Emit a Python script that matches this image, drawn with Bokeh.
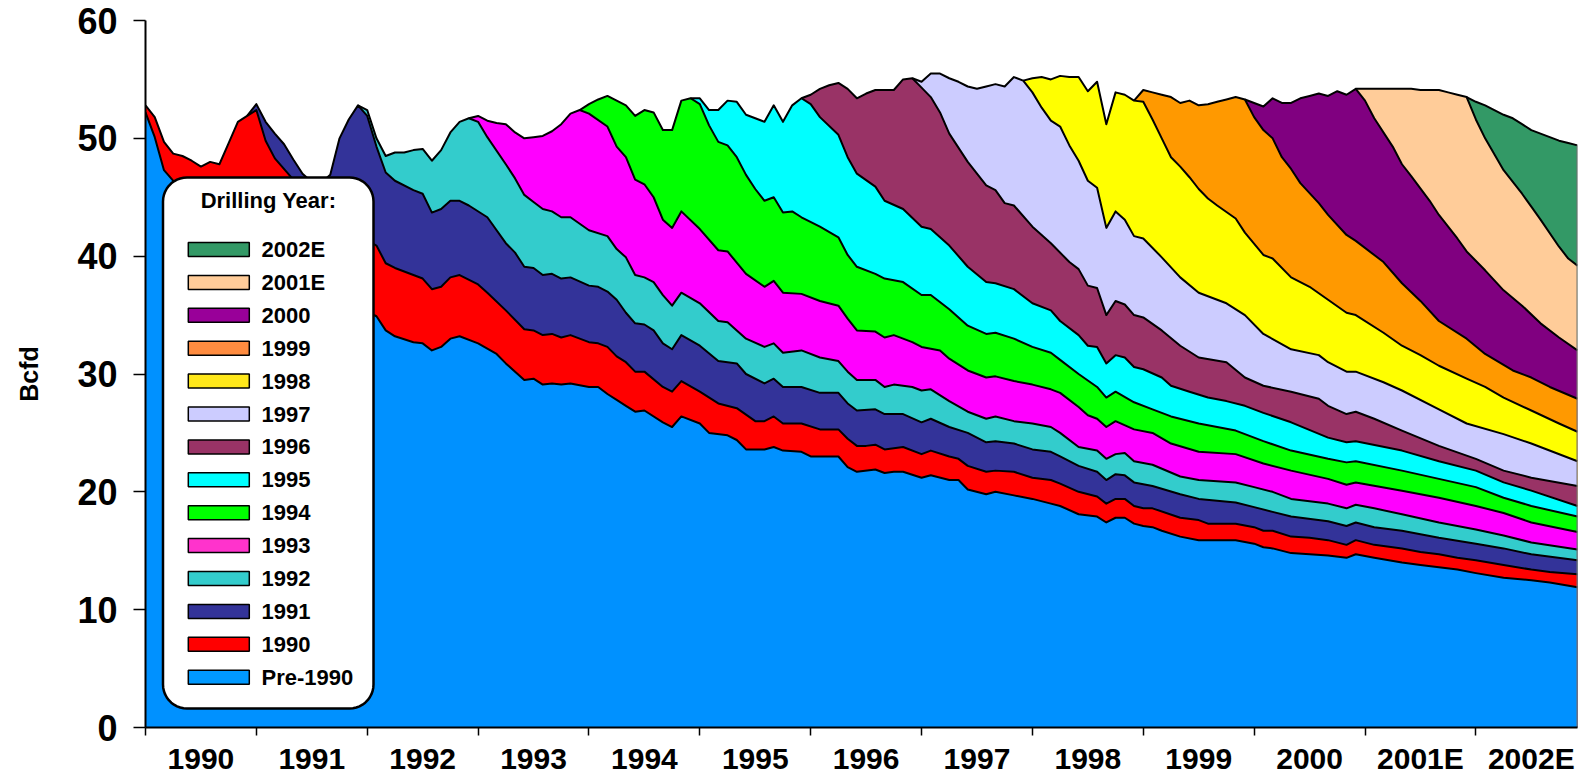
import numpy as np
from bokeh.plotting import figure
from bokeh.models import FixedTicker, Range1d
from bokeh.embed import file_html
from bokeh.resources import INLINE
from bokeh.core.properties import value

# ---------------- data ----------------
# month index: 0 = Jan 1990 ... 155 = Dec 2002
year_labels = ["1990", "1991", "1992", "1993", "1994", "1995", "1996",
               "1997", "1998", "1999", "2000", "2001E", "2002E"]

# stacked level (Bcfd) at the top of each drilling-year band: (month, level)
pre1990 = [(0,52.2),(1,50.1),(2,47.3),(4,45.5),(8,42.5),(12,40.5),(16,38.5),(20,36.8),(25,34.9),(26,33.7),(27,33.2),
           (29,32.7),(30,32.6),(31,32.0),(32,32.3),(33,33.0),(34,33.2),(36,32.6),(38,31.7),(39,30.9),(41,29.5),(42,29.6),
           (43,29.1),(44,29.2),(45,29.1),(46,29.2),(48,28.9),(49,28.9),(50,28.3),(51,27.8),(52,27.3),(53,26.8),(54,26.9),
           (56,25.9),(57,25.5),(58,26.4),(60,25.8),(61,25.0),(63,24.8),(64,24.4),(65,23.6),(67,23.6),(68,23.8),(69,23.5),
           (71,23.4),(72,23.0),(75,23.0),(76,22.1),(77,21.7),(79,21.9),(80,21.6),(81,21.7),(82,21.7),(84,21.2),(85,21.4),
           (87,21.0),(88,21.0),(89,20.2),(91,19.8),(92,20.0),(94,19.7),(96,19.4),(98,19.0),(99,18.8),(101,18.1),(103,17.9),
           (104,17.4),(105,17.8),(106,17.8),(107,17.3),(108,17.1),(109,17.0),(110,16.7),(112,16.2),(114,15.9),(115,15.9),
           (118,15.9),(120,15.6),(121,15.3),(122,15.2),(124,14.8),(126,14.7),(128,14.6),(130,14.4),(131,14.7),(133,14.4),
           (136,14.0),(138,13.8),(140,13.6),(142,13.4),(144,13.1),(147,12.7),(150,12.5),(152,12.3),(155,11.9)]
y1990 = [(0,52.8),(1,51.8),(2,49.7),(3,48.7),(4,48.5),(5,48.1),(6,47.6),(7,48.0),(8,47.8),(9,49.6),(10,51.4),(11,51.9),
         (12,52.4),(13,49.8),(14,48.3),(16,46.5),(18,45.0),(20,43.5),(22,42.2),(25,40.9),(26,39.4),(27,39.0),(29,38.4),
         (30,38.1),(31,37.2),(32,37.4),(33,38.2),(34,38.4),(36,37.6),(37,36.9),(39,35.4),(41,33.8),(42,33.7),(43,33.3),
         (44,33.4),(45,33.1),(46,33.3),(48,32.7),(49,32.6),(50,32.3),(51,31.5),(52,31.0),(53,30.2),(54,30.2),(56,28.9),
         (57,28.5),(58,29.4),(60,28.5),(62,27.5),(64,27.1),(66,26.0),(67,26.0),(68,26.4),(69,25.8),(71,25.8),(73,25.3),
         (75,25.3),(76,24.5),(77,23.9),(78,23.9),(79,24.0),(80,23.6),(82,23.8),(84,23.2),(85,23.5),(87,23.0),(88,22.8),
         (89,22.2),(91,21.7),(92,21.8),(94,21.7),(96,21.2),(98,21.0),(99,20.7),(101,20.0),(103,19.6),(104,19.0),
         (105,19.4),(106,19.4),(107,18.8),(108,18.6),(109,18.6),(112,17.8),(114,17.6),(115,17.3),(118,17.3),(120,17.0),
         (121,16.7),(122,16.7),(124,16.2),(126,16.1),(128,15.9),(130,15.5),(131,15.9),(133,15.5),(136,15.2),(138,14.9),
         (140,14.7),(142,14.4),(144,14.2),(147,13.8),(150,13.4),(152,13.2),(155,13.0)]
y1991 = [(11,51.9),(12,52.9),(13,51.4),(14,50.4),(15,49.5),(16,48.2),(17,47.0),(18,46.3),(19,46.2),(20,46.9),(21,50.0),
         (22,51.6),(23,52.8),(24,51.9),(25,49.3),(26,47.1),(27,46.4),(29,45.6),(30,45.3),(31,43.7),(32,44.0),(33,44.7),
         (34,44.7),(35,44.3),(37,43.3),(39,41.1),(40,40.3),(41,39.1),(42,39.0),(43,38.4),(44,38.5),(45,38.1),(46,38.2),
         (48,37.5),(49,37.4),(50,37.0),(51,36.3),(52,35.2),(53,34.3),(54,34.2),(55,33.7),(56,32.6),(57,32.1),(58,33.3),
         (60,32.4),(62,31.1),(64,30.9),(65,30.0),(67,29.2),(68,29.6),(69,28.9),(71,28.9),(73,28.4),(75,28.4),(76,27.5),
         (77,26.9),(79,27.0),(80,26.6),(82,26.6),(84,25.9),(85,26.2),(87,25.5),(89,25.0),(91,24.2),(92,24.3),(94,24.1),
         (96,23.6),(98,23.4),(99,23.0),(101,22.2),(103,21.7),(104,21.0),(105,21.5),(106,21.4),(107,20.8),(109,20.5),
         (112,19.8),(114,19.4),(118,19.1),(120,18.7),(122,18.3),(124,17.9),(128,17.5),(130,17.1),(131,17.4),(133,17.0),
         (136,16.7),(140,16.1),(144,15.6),(147,15.2),(150,14.7),(155,14.2)]
y1992 = [(23,52.8),(24,52.4),(25,50.0),(26,48.5),(27,48.8),(28,48.8),(29,49.0),(30,49.1),(31,48.1),(32,49.0),(33,50.5),
         (34,51.4),(35,51.7),(36,51.4),(37,50.1),(39,47.8),(40,46.6),(41,45.2),(42,44.6),(43,44.0),(44,43.8),(45,43.3),
         (46,43.3),(48,42.2),(50,41.7),(51,40.6),(52,39.9),(53,38.4),(54,38.2),(55,37.8),(56,36.7),(57,35.8),(58,36.9),
         (60,36.0),(62,34.5),(63,34.4),(65,33.0),(67,32.3),(68,32.6),(69,31.8),(71,32.0),(73,31.4),(75,31.1),(76,30.2),
         (77,29.5),(79,29.5),(80,28.9),(81,29.1),(83,28.9),(84,28.6),(85,28.7),(87,27.7),(89,26.8),(91,26.2),(92,26.4),
         (94,26.0),(96,25.8),(98,25.5),(99,25.0),(101,23.8),(103,23.5),(104,22.8),(105,23.2),(106,23.3),(107,22.6),
         (109,22.3),(112,21.3),(114,21.0),(118,20.8),(120,20.4),(122,20.0),(124,19.4),(128,19.0),(130,18.6),(131,18.9),
         (133,18.6),(136,18.1),(140,17.4),(144,16.8),(147,16.3),(150,15.7),(155,15.1)]
y1993 = [(35,51.7),(36,51.9),(37,51.5),(38,51.3),(39,51.2),(40,50.5),(41,50.0),(42,50.1),(43,50.2),(44,50.6),(45,51.2),
         (46,52.1),(47,52.4),(48,52.1),(50,51.0),(51,49.3),(52,48.4),(53,46.5),(54,46.1),(55,45.0),(56,43.1),(57,42.4),
         (58,43.8),(60,42.3),(62,40.5),(63,40.4),(65,38.5),(67,37.4),(68,37.9),(69,36.9),(71,36.8),(73,36.2),(75,35.8),
         (76,34.7),(77,33.7),(79,33.6),(80,33.1),(81,33.3),(83,32.7),(84,32.3),(86,32.0),(87,31.3),(89,30.3),(91,29.7),
         (92,29.8),(94,29.4),(96,29.1),(98,28.7),(99,28.4),(101,27.2),(102,26.5),(103,26.2),(104,25.5),(105,26.0),
         (107,25.3),(109,25.0),(111,24.1),(114,23.4),(118,23.2),(121,22.4),(124,21.8),(128,21.1),(130,20.6),(131,20.8),
         (136,20.1),(140,19.5),(144,18.8),(147,18.2),(150,17.4),(155,16.6)]
y1994 = [(47,52.4),(48,52.9),(49,53.3),(50,53.6),(51,53.2),(52,52.8),(53,51.9),(54,52.4),(55,52.2),(56,50.7),(57,50.7),
         (58,53.2),(59,53.4),(60,52.9),(61,51.1),(62,49.7),(63,49.4),(64,48.4),(65,46.9),(66,45.7),(67,44.7),(68,45.0),
         (69,43.7),(70,43.8),(71,43.3),(73,42.5),(75,41.6),(76,40.1),(77,39.1),(79,38.5),(80,38.1),(82,37.8),(84,36.7),
         (85,36.7),(87,35.5),(89,34.1),(91,33.4),(92,33.5),(94,33.0),(96,32.3),(98,31.8),(99,31.2),(101,30.0),(103,28.9),
         (104,28.0),(105,28.5),(107,27.6),(109,27.0),(111,26.4),(114,25.8),(118,25.2),(121,24.3),(124,23.5),(128,22.8),
         (130,22.5),(131,22.6),(136,21.8),(140,21.1),(144,20.4),(147,19.5),(150,18.8),(155,17.9)]
y1995 = [(59,53.4),(60,53.4),(61,52.4),(62,52.4),(63,53.2),(64,53.1),(65,52.0),(66,51.7),(67,51.4),(68,52.8),(69,51.4),
         (70,52.8),(71,53.4),(72,52.9),(73,51.8),(75,50.3),(76,48.4),(77,47.0),(79,45.9),(80,44.7),(82,44.0),(84,42.5),
         (85,42.3),(87,40.9),(89,39.1),(91,37.8),(92,37.7),(94,37.2),(96,36.0),(98,35.4),(99,34.5),(101,33.3),(102,32.4),
         (103,32.3),(104,30.9),(105,31.6),(106,31.4),(107,30.6),(108,30.4),(110,29.7),(111,29.0),(113,28.5),(115,28.0),
         (117,27.7),(119,27.3),(121,26.7),(124,25.9),(128,24.6),(130,24.2),(131,24.3),(136,23.5),(140,22.6),(144,21.8),
         (147,20.8),(150,20.1),(155,18.8)]
y1996 = [(71,53.4),(72,53.7),(73,54.2),(74,54.5),(75,54.7),(76,54.2),(77,53.4),(78,53.8),(79,54.1),(80,54.1),(81,54.1),
         (82,55.0),(83,55.1),(84,54.3),(85,53.5),(86,52.2),(87,50.4),(89,48.0),(91,46.0),(92,45.6),(93,44.5),(94,44.3),
         (96,42.5),(98,41.1),(100,39.5),(101,38.9),(102,37.5),(103,37.3),(104,35.0),(105,36.2),(106,35.9),(107,35.0),
         (108,34.8),(110,33.7),(112,32.4),(114,31.4),(117,31.0),(119,29.7),(121,29.0),(124,28.5),(127,27.9),(128,27.3),
         (130,26.6),(131,26.8),(133,26.2),(136,25.2),(140,23.9),(144,22.8),(147,21.8),(150,21.2),(155,20.5)]
y1997 = [(83,55.1),(84,54.8),(85,55.5),(86,55.5),(87,55.1),(88,54.8),(89,54.4),(90,54.2),(91,54.4),(92,54.6),(93,54.4),
         (94,55.2),(95,54.9),(96,53.9),(97,52.6),(98,51.5),(99,51.0),(100,49.4),(101,48.1),(102,46.4),(103,45.8),
         (104,42.4),(105,43.8),(106,43.1),(107,41.7),(108,41.5),(110,39.9),(112,38.2),(114,36.9),(117,36.0),(119,35.0),
         (121,33.4),(124,32.1),(127,31.6),(128,31.0),(130,30.2),(131,30.2),(134,29.3),(136,28.6),(140,27.0),(143,25.8),
         (147,24.9),(150,24.1),(155,22.6)]
y1998 = [(95,54.9),(96,55.1),(97,55.2),(98,55.0),(99,55.3),(100,55.2),(101,55.2),(102,54.0),(103,54.8),(104,51.2),
         (105,53.9),(106,53.7),(107,53.2),(108,53.1),(109,51.6),(110,50.0),(111,48.4),(112,47.6),(113,46.7),(114,45.7),
         (115,44.9),(116,44.3),(118,43.2),(119,42.0),(121,40.1),(122,39.8),(124,38.2),(126,37.4),(128,36.3),(130,35.2),
         (131,35.0),(134,33.5),(136,32.4),(138,31.6),(140,30.7),(143,29.6),(145,28.9),(147,28.0),(150,26.9),(153,25.8),
         (155,25.1)]
y1999 = [(107,53.2),(108,54.1),(109,53.9),(110,53.7),(111,53.5),(112,53.0),(113,53.2),(114,52.8),(115,52.9),(116,53.1),
         (117,53.3),(118,53.5),(119,53.3),(120,51.8),(121,50.7),(122,50.0),(123,48.4),(124,47.4),(125,46.2),(127,44.5),
         (128,43.5),(130,41.8),(131,41.3),(134,39.5),(136,37.7),(138,36.2),(140,34.5),(143,33.0),(145,31.7),(148,30.3),
         (150,29.7),(152,28.9),(155,27.9)]
y2000 = [(119,53.3),(120,53.0),(121,52.7),(122,53.4),(123,53.0),(124,53.0),(125,53.4),(126,53.6),(127,53.8),(128,53.6),
         (129,54.0),(130,53.7),(131,54.2),(132,53.2),(133,51.7),(135,49.3),(136,47.8),(137,46.8),(139,44.7),(140,43.5),
         (142,41.5),(143,40.4),(145,38.8),(147,37.1),(149,35.8),(151,34.3),(153,33.1),(155,32.0)]
y2001e = [(131,54.2),(132,54.2),(133,54.2),(134,54.2),(135,54.2),(136,54.2),(137,54.2),(138,54.1),(139,54.1),(140,54.1),
          (141,53.9),(142,53.7),(143,53.5),(144,51.6),(145,50.0),(147,47.3),(149,45.3),(150,44.2),(151,43.1),(153,40.8),
          (154,39.8),(155,39.2)]
y2002e = [(143,53.5),(144,53.1),(145,52.8),(146,52.4),(147,52.0),(148,51.7),(149,51.2),(150,50.7),(151,50.4),(152,50.1),
          (153,49.8),(154,49.6),(155,49.4)]

series_names = ["Pre-1990", "1990", "1991", "1992", "1993", "1994", "1995",
                "1996", "1997", "1998", "1999", "2000", "2001E", "2002E"]
series_data = [pre1990, y1990, y1991, y1992, y1993, y1994, y1995,
               y1996, y1997, y1998, y1999, y2000, y2001e, y2002e]

# ---------------- styles ----------------
fill_colors = ["#0091FF", "#FF0000", "#333399", "#33CCCC", "#FF00FF", "#00FF00", "#00FFFF",
               "#993366", "#CCCCFF", "#FFFF00", "#FF9900", "#800080", "#FFCC99", "#339966"]
legend_colors = ["#0099FF", "#FF0000", "#333399", "#33CCCC", "#FF33CC", "#00FF00", "#00FFFF",
                 "#993366", "#CCCCFF", "#FFE81A", "#FF8C40", "#990099", "#FFCC99", "#339966"]
FONT = "Liberation Sans"

# pixel geometry of the plot frame (canvas coordinates)
PX_L, PX_R, PX_T, PX_B = 145, 1577, 20, 727
XMAX = 155
def mx(px):
    return (px - PX_L) / ((PX_R - PX_L) / XMAX)
def vy(py):
    return (PX_B - py) / ((PX_B - PX_T) / 60.0)

p = figure(width=1587, height=777, output_backend="svg", toolbar_location=None,
           x_range=Range1d(0, XMAX), y_range=Range1d(0, 60),
           min_border_left=PX_L, min_border_right=1587 - PX_R, min_border_top=PX_T,
           min_border_bottom=777 - PX_B)
p.outline_line_color = None
p.xgrid.visible = False
p.ygrid.visible = False
p.background_fill_color = "white"
p.border_fill_color = "white"

# fills: draw from youngest (back) to oldest (front)
for data, col in reversed(list(zip(series_data, fill_colors))):
    xs = [d[0] for d in data]
    ys = [d[1] for d in data]
    p.varea(x=xs, y1=[0] * len(xs), y2=ys, fill_color=col, fill_alpha=1.0)
for data in series_data:
    xs = [d[0] for d in data]
    ys = [d[1] for d in data]
    p.line(x=xs, y=ys, line_color="black", line_width=2, line_join="round")
# right edge border of the stack
p.segment(x0=[XMAX], y0=[0], x1=[XMAX], y1=[y2002e[-1][1]], line_color="#707070", line_width=2)

# ---------------- legend (rounded box) ----------------
bx0, bx1, by0, by1, r = 162.5, 373.0, 177.0, 708.0, 24.0
pts = []
for cx, cy, a0 in [(bx1 - r, by0 + r, -90), (bx1 - r, by1 - r, 0), (bx0 + r, by1 - r, 90), (bx0 + r, by0 + r, 180)]:
    for a in np.linspace(a0, a0 + 90, 12):
        pts.append((cx + r * np.cos(np.radians(a)), cy + r * np.sin(np.radians(a))))
p.patch(x=[mx(q[0]) for q in pts], y=[vy(q[1]) for q in pts], fill_color="white",
        line_color="black", line_width=2.5)

p.text(x=[mx(268)], y=[vy(200)], text=["Drilling Year:"], text_font=value(FONT),
       text_font_style="bold", text_font_size="22px", text_align="center", text_baseline="middle")
leg_names = list(reversed(series_names))
leg_cols = list(reversed(legend_colors))
leg_y = [vy(249 + 32.9 * k) for k in range(len(leg_names))]
p.rect(x=[mx(218.3)] * len(leg_names), y=leg_y, width=61, height=14, width_units="screen",
       height_units="screen", fill_color=leg_cols, line_color="black", line_width=1.5)
p.text(x=[mx(261)] * len(leg_names), y=leg_y, text=leg_names, text_font=value(FONT),
       text_font_style="bold", text_font_size="22px", text_align="left", text_baseline="middle")

# ---------------- axes ----------------
yax = p.yaxis[0]
yax.ticker = FixedTicker(ticks=[0, 10, 20, 30, 40, 50, 60])
yax.major_tick_out = 12
yax.major_tick_in = 0
yax.minor_tick_line_color = None
yax.major_tick_line_width = 1.5
yax.axis_line_width = 2
yax.major_label_text_font = FONT
yax.major_label_text_font_style = "bold"
yax.major_label_text_font_size = "36px"
yax.major_label_standoff = 16
yax.major_label_text_color = "black"
yax.axis_label = "Bcfd"
yax.axis_label_text_font = FONT
yax.axis_label_text_font_style = "bold"
yax.axis_label_text_font_size = "25px"
yax.axis_label_text_color = "black"
yax.axis_label_standoff = 31

xax = p.xaxis[0]
centers = [6 + 12 * k for k in range(len(year_labels))]
xax.ticker = FixedTicker(ticks=centers, minor_ticks=[12 * k for k in range(len(year_labels))])
xax.major_label_overrides = {c: lab for c, lab in zip(centers, year_labels)}
xax.major_tick_line_color = None
xax.major_tick_out = 0
xax.major_tick_in = 0
xax.minor_tick_out = 8
xax.minor_tick_in = 0
xax.minor_tick_line_width = 1.5
xax.minor_tick_line_color = "black"
xax.axis_line_width = 2
xax.major_label_text_font = FONT
xax.major_label_text_font_style = "bold"
xax.major_label_text_font_size = "30px"
xax.major_label_standoff = 6
xax.major_label_text_color = "black"

open("out.html", "w").write(file_html(p, INLINE))
